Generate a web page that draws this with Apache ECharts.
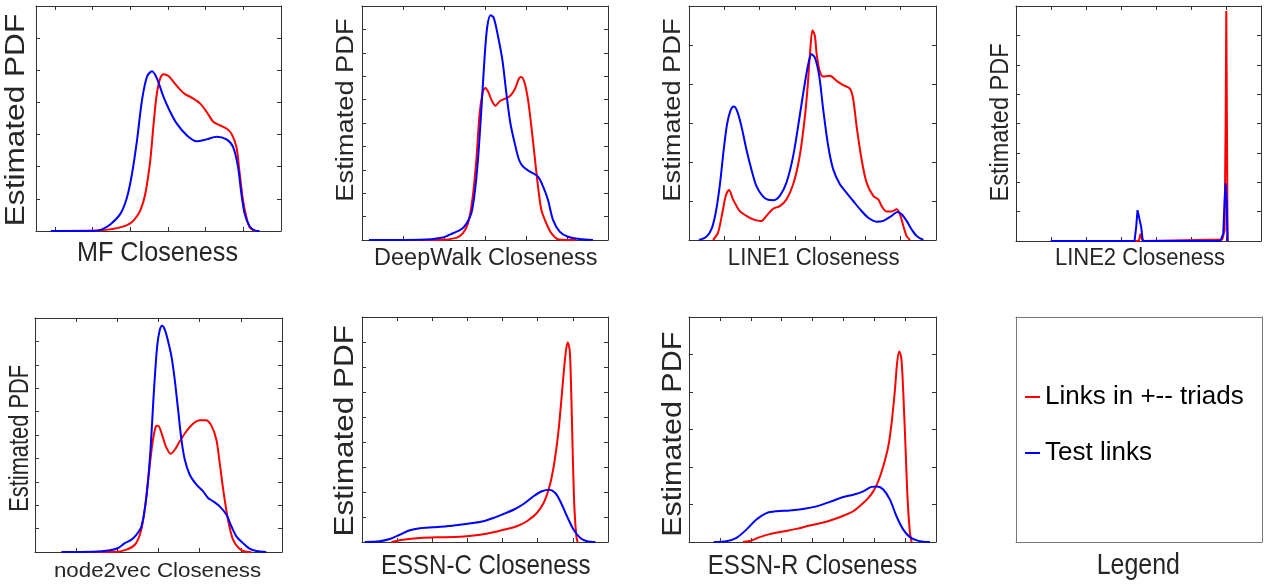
<!DOCTYPE html>
<html>
<head>
<meta charset="utf-8">
<script src="https://cdn.jsdelivr.net/npm/echarts@6/dist/echarts.min.js"></script>
<style>
html,body{margin:0;padding:0;background:#fff;}
#chart{width:1270px;height:588px;}
</style>
</head>
<body>
<div id="chart"></div>
<script>
// ---------------- DATA (x in tick units, y in tick units) ----------------
const seriesNames = ['Links in +-- triads', 'Test links'];
const yLabel = 'Estimated PDF';
const xLabels = ['MF Closeness', 'DeepWalk Closeness', 'LINE1 Closeness', 'LINE2 Closeness',
                 'node2vec Closeness', 'ESSN-C Closeness', 'ESSN-R Closeness'];
const legendLabel = 'Legend';

const mfTriad = [[-0.061,0],[1.214,0.02],[1.653,0.09],[1.917,0.18],[2.092,0.33],[2.268,0.64],[2.400,1.16],[2.532,2.20],[2.620,3.34],[2.707,4.28],[2.795,4.75],[2.883,4.88],[3.015,4.82],[3.147,4.64],[3.322,4.40],[3.454,4.26],[3.630,4.15],[3.850,3.97],[4.025,3.71],[4.201,3.40],[4.377,3.29],[4.553,3.19],[4.685,3.03],[4.816,2.62],[4.904,1.79],[4.992,0.96],[5.080,0.44],[5.167,0.12],[5.300,0]];
const mfTest = [[-0.105,0],[1.038,0],[1.25,0.05],[1.477,0.21],[1.741,0.54],[1.917,1.06],[2.048,1.79],[2.180,2.82],[2.312,4.07],[2.444,4.80],[2.576,4.97],[2.707,4.75],[2.883,4.17],[3.059,3.71],[3.235,3.34],[3.498,2.98],[3.762,2.79],[4.025,2.85],[4.289,2.93],[4.553,2.85],[4.728,2.62],[4.860,1.99],[4.948,1.16],[5.036,0.54],[5.167,0.15],[5.300,0.02],[5.431,0]];

const deepwalkTriad = [[0.171,0],[1.894,0],[2.301,0.09],[2.463,0.29],[2.585,0.71],[2.691,1.71],[2.789,3.43],[2.870,5.43],[2.951,6.36],[3.008,6.5],[3.073,6.36],[3.154,6.0],[3.260,5.74],[3.358,5.93],[3.480,6.03],[3.602,6.14],[3.724,6.43],[3.829,6.9],[3.886,6.97],[3.967,6.71],[4.049,6.0],[4.130,4.86],[4.211,3.57],[4.293,2.29],[4.374,1.29],[4.496,0.71],[4.618,0.29],[4.780,0.03],[4.984,0],[5.228,0]];
const deepwalkTest = [[0.171,0],[1.407,0.01],[1.976,0.11],[2.220,0.29],[2.423,0.46],[2.545,0.69],[2.667,1.14],[2.748,2.0],[2.829,3.43],[2.911,5.57],[2.992,7.86],[3.057,9.14],[3.138,9.6],[3.211,9.5],[3.317,8.71],[3.423,7.71],[3.520,6.29],[3.618,5.0],[3.724,4.14],[3.829,3.43],[3.927,3.14],[4.089,2.93],[4.293,2.71],[4.415,2.29],[4.537,1.71],[4.659,0.86],[4.821,0.36],[5.024,0.14],[5.309,0.04],[5.634,0]];

const line1Triad = [[0.681,0],[0.823,0.19],[0.946,0.70],[1.041,1.13],[1.135,1.28],[1.249,1.04],[1.438,0.74],[1.627,0.62],[1.816,0.53],[2.053,0.49],[2.195,0.62],[2.384,0.80],[2.573,0.87],[2.762,1.04],[2.952,1.43],[3.122,2.07],[3.254,2.92],[3.349,3.78],[3.425,4.72],[3.500,5.38],[3.567,5.23],[3.614,4.80],[3.690,4.38],[3.803,4.19],[3.992,4.21],[4.182,4.08],[4.371,3.97],[4.560,3.88],[4.654,3.61],[4.749,2.92],[4.891,2.07],[5.033,1.47],[5.222,1.13],[5.364,1.04],[5.459,0.87],[5.601,0.73],[5.743,0.73],[5.885,0.79],[5.979,0.66],[6.074,0.36],[6.168,0.10],[6.263,0]];
const line1Test = [[0.284,0],[0.492,0.085],[0.634,0.27],[0.757,0.70],[0.870,1.38],[0.984,2.32],[1.079,2.97],[1.173,3.31],[1.268,3.42],[1.362,3.31],[1.485,2.92],[1.627,2.32],[1.769,1.81],[1.911,1.38],[2.100,1.11],[2.242,1.03],[2.384,1.02],[2.573,1.13],[2.762,1.47],[2.952,2.15],[3.122,3.09],[3.254,3.86],[3.378,4.50],[3.472,4.76],[3.567,4.68],[3.690,4.21],[3.803,3.35],[3.945,2.41],[4.087,1.81],[4.276,1.43],[4.465,1.21],[4.654,1.0],[4.844,0.79],[5.080,0.57],[5.317,0.47],[5.506,0.49],[5.743,0.62],[5.903,0.72],[6.026,0.66],[6.168,0.49],[6.310,0.27],[6.452,0.10],[6.641,0]];

const line2Triad = [[0.993,0],[3.510,0],[3.557,0.25],[3.605,0.05],[3.671,0],[5.894,0.05],[5.960,0.37],[5.990,4.0],[6.008,7.83],[6.027,4.0],[6.045,0]];
const line2Test = [[0.993,0],[3.387,0],[3.434,0.48],[3.472,1.05],[3.529,0.99],[3.576,0.48],[3.623,0],[5.705,0],[5.847,0.02],[5.922,0.25],[5.960,1.39],[5.989,1.96],[6.017,1.39],[6.045,0],[6.064,0]];

const node2vecTriad = [[0.647,0],[1.981,0.01],[2.223,0.10],[2.425,0.31],[2.547,0.74],[2.643,1.52],[2.749,3.09],[2.854,4.66],[2.935,5.37],[2.991,5.40],[3.072,5.09],[3.177,4.52],[3.298,4.20],[3.395,4.37],[3.517,4.73],[3.678,5.16],[3.840,5.48],[4.002,5.63],[4.147,5.63],[4.285,5.40],[4.406,4.80],[4.487,3.80],[4.584,2.52],[4.689,1.38],[4.810,0.53],[4.972,0.13],[5.133,0.01],[5.255,0]];
const node2vecTest = [[0.647,0],[1.415,0.01],[1.819,0.07],[2.021,0.17],[2.183,0.38],[2.344,0.53],[2.466,0.74],[2.587,1.10],[2.708,2.38],[2.805,4.37],[2.886,6.79],[2.967,8.79],[3.032,9.50],[3.088,9.67],[3.153,9.50],[3.234,9.0],[3.315,8.36],[3.395,7.36],[3.476,6.08],[3.557,4.80],[3.638,3.95],[3.759,3.30],[3.921,2.88],[4.083,2.59],[4.204,2.31],[4.325,2.17],[4.487,1.95],[4.648,1.60],[4.770,1.10],[4.891,0.67],[5.053,0.38],[5.214,0.14],[5.376,0.04],[5.618,0]];

const essncTriad = [[0.837,0],[1.170,0.09],[1.646,0.16],[2.122,0.19],[2.598,0.20],[2.978,0.23],[3.359,0.29],[3.739,0.39],[4.120,0.52],[4.405,0.63],[4.691,0.83],[4.976,1.16],[5.167,1.56],[5.309,2.09],[5.404,2.63],[5.500,3.43],[5.595,4.49],[5.690,5.96],[5.785,7.43],[5.852,7.99],[5.909,7.69],[5.947,6.36],[5.994,3.69],[6.042,1.43],[6.099,0.23],[6.137,0]];
const essncTest = [[0.076,0],[0.504,0.03],[0.790,0.12],[1.075,0.29],[1.361,0.47],[1.646,0.55],[2.027,0.59],[2.407,0.63],[2.788,0.69],[3.168,0.76],[3.454,0.83],[3.739,0.96],[4.025,1.12],[4.310,1.29],[4.596,1.52],[4.881,1.83],[5.119,2.03],[5.338,2.09],[5.500,1.96],[5.642,1.63],[5.833,1.03],[6.023,0.49],[6.213,0.16],[6.403,0.03],[6.641,0]];

const essnrTriad = [[1.751,0],[2.022,0.04],[2.292,0.13],[2.616,0.21],[3.049,0.28],[3.481,0.35],[3.914,0.44],[4.346,0.52],[4.670,0.60],[4.995,0.70],[5.319,0.82],[5.589,1.0],[5.805,1.17],[5.968,1.35],[6.130,1.62],[6.292,2.02],[6.454,2.55],[6.562,3.17],[6.670,4.06],[6.746,4.82],[6.811,5.08],[6.876,4.91],[6.941,3.97],[7.016,2.46],[7.081,1.13],[7.157,0.24],[7.211,0]];
const essnrTest = [[0.800,0],[1.211,0.02],[1.535,0.11],[1.859,0.33],[2.184,0.60],[2.508,0.77],[2.832,0.82],[3.265,0.84],[3.697,0.88],[4.130,0.95],[4.562,1.07],[4.995,1.20],[5.319,1.26],[5.643,1.35],[5.914,1.47],[6.097,1.48],[6.292,1.40],[6.508,1.13],[6.724,0.68],[6.941,0.33],[7.157,0.13],[7.427,0.03],[7.805,0]];

// axis ranges and tick positions (no tick labels are shown in the figure)
const mfXTicks = [0,1,2,3,4,5],       mfYTicks = [1,2,3,4,5,6];
const deepwalkXTicks = [1,2,3,4,5],   deepwalkYTicks = [1,2,3,4,5,6,7,8,9];
const line1XTicks = [1,2,3,4,5,6],    line1YTicks = [1,2,3,4,5];
const line2XTicks = [1,2,3,4,5,6],    line2YTicks = [1,2,3,4,5,6,7];
const node2vecXTicks = [1,2,3,4,5],   node2vecYTicks = [1,2,3,4,5,6,7,8,9];
const essncXTicks = [1,2,3,4,5,6],    essncYTicks = [1,2,3,4,5,6,7,8];
const essnrXTicks = [1,2,3,4,5,6,7],  essnrYTicks = [1,2,3,4,5];

// ---------------- LAYOUT / STYLE ----------------
const FONT = '"Liberation Sans", Arial, Helvetica, sans-serif';
const RED = '#ff0000', BLUE = '#0000ff';
const BORDER = '#333333', TEXT = '#262626';

const panels = [
  {triad: mfTriad, test: mfTest, xr:[-0.5,6], yr:[0,7], xt: mfXTicks, yt: mfYTicks,
   grid:{left:36, top:6, width:245, height:225}, smooth:0.3,
   ylab:{x:17, y:120, size:27, sx:1.17}, xlab:{x:157.5, y:253, size:28, sx:0.90}},
  {triad: deepwalkTriad, test: deepwalkTest, xr:[0,6], yr:[0,10], xt: deepwalkXTicks, yt: deepwalkYTicks,
   grid:{left:362, top:6, width:246, height:234}, smooth:0.3,
   ylab:{x:346.7, y:110, size:23, sx:1.185}, xlab:{x:485.8, y:258.3, size:23, sx:1.02}},
  {triad: line1Triad, test: line1Test, xr:[0,7], yr:[0,6], xt: line1XTicks, yt: line1YTicks,
   grid:{left:689, top:6, width:247, height:234}, smooth:0.3,
   ylab:{x:673.3, y:110, size:23, sx:1.185}, xlab:{x:813.7, y:258.7, size:23, sx:0.966}},
  {triad: line2Triad, test: line2Test, xr:[0,7], yr:[0,8], xt: line2XTicks, yt: line2YTicks,
   grid:{left:1016, top:6, width:245, height:235}, smooth:false,
   ylab:{x:1000.8, y:122.5, size:25, sx:0.94}, xlab:{x:1140, y:258.7, size:23, sx:0.958}},
  {triad: node2vecTriad, test: node2vecTest, xr:[0,6], yr:[0,10], xt: node2vecXTicks, yt: node2vecYTicks,
   grid:{left:35, top:318, width:247, height:234}, smooth:0.3,
   ylab:{x:20, y:438.3, size:28, sx:0.78}, xlab:{x:157.5, y:571, size:21, sx:1.063}},
  {triad: essncTriad, test: essncTest, xr:[0,7], yr:[0,9], xt: essncXTicks, yt: essncYTicks,
   grid:{left:362, top:317, width:246, height:225}, smooth:0.3,
   ylab:{x:345, y:430.8, size:28, sx:1.124}, xlab:{x:485.8, y:566.7, size:28, sx:0.858}},
  {triad: essnrTriad, test: essnrTest, xr:[0,8], yr:[0,6], xt: essnrXTicks, yt: essnrYTicks,
   grid:{left:689, top:317, width:247, height:225}, smooth:0.3,
   ylab:{x:673.3, y:434.2, size:28, sx:1.089}, xlab:{x:812.5, y:566.7, size:28, sx:0.858}}
];
const legendPanel = {grid:{left:1016, top:317, width:246, height:225}, xlab:{x:1138.3, y:566, size:29, sx:0.86}};

const option = {
  animation: false,
  backgroundColor: '#ffffff',
  grid: [], xAxis: [], yAxis: [], series: [], graphic: [],
  legend: {
    data: seriesNames,
    orient: 'vertical',
    left: 1025, top: 384,
    padding: 0,
    itemWidth: 15, itemHeight: 2, itemGap: 30,
    icon: 'rect',
    selectedMode: false,
    textStyle: {color:'#000000', fontSize:26, fontFamily: FONT}
  }
};

function mkAxis(gi, min, max, ticks, pos, color, showTicks) {
  return {
    gridIndex: gi, type: 'value', min: min, max: max, position: pos,
    axisLine: {show:true, onZero:false, lineStyle:{color:color, width:1}},
    axisTick: {show:showTicks, inside:true, length:4, customValues: ticks, lineStyle:{color:color, width:1}},
    axisLabel: {show:false}, splitLine: {show:false}
  };
}

function textEl(str, lab, rotated) {
  return {
    type: 'text', x: lab.x, y: lab.y, rotation: rotated ? Math.PI/2 : 0,
    scaleX: lab.sx, silent: true,
    style: {text: str, font: lab.size + 'px ' + FONT, fill: TEXT,
            align: 'center', verticalAlign: 'middle', textAlign: 'center', textVerticalAlign: 'middle'}
  };
}

panels.forEach(function (p, i) {
  option.grid.push(Object.assign({containLabel:false}, p.grid));
  option.xAxis.push(mkAxis(i, p.xr[0], p.xr[1], p.xt, 'bottom', BORDER, true));
  option.xAxis.push(mkAxis(i, p.xr[0], p.xr[1], p.xt, 'top', BORDER, true));
  option.yAxis.push(mkAxis(i, p.yr[0], p.yr[1], p.yt, 'left', BORDER, true));
  option.yAxis.push(mkAxis(i, p.yr[0], p.yr[1], p.yt, 'right', BORDER, true));
  [[p.triad, RED, 0], [p.test, BLUE, 1]].forEach(function (s) {
    option.series.push({
      type: 'line', name: seriesNames[s[2]], data: s[0],
      xAxisIndex: 2*i, yAxisIndex: 2*i,
      smooth: p.smooth, showSymbol: false, symbol: 'none', clip: true,
      lineStyle: {color: s[1], width: 2}, itemStyle: {color: s[1]},
      silent: true
    });
  });
  option.graphic.push(textEl(yLabel, p.ylab, true));
  option.graphic.push(textEl(xLabels[i], p.xlab, false));
});

// legend panel box
(function () {
  const gi = panels.length;
  option.grid.push(Object.assign({containLabel:false}, legendPanel.grid));
  option.xAxis.push(mkAxis(gi, 0, 1, [], 'bottom', '#777777', false));
  option.xAxis.push(mkAxis(gi, 0, 1, [], 'top', '#777777', false));
  option.yAxis.push(mkAxis(gi, 0, 1, [], 'left', '#777777', false));
  option.yAxis.push(mkAxis(gi, 0, 1, [], 'right', '#777777', false));
  option.graphic.push(textEl(legendLabel, legendPanel.xlab, false));
})();

const chart = echarts.init(document.getElementById('chart'), null, {renderer:'canvas'});
chart.setOption(option);
</script>
</body>
</html>
